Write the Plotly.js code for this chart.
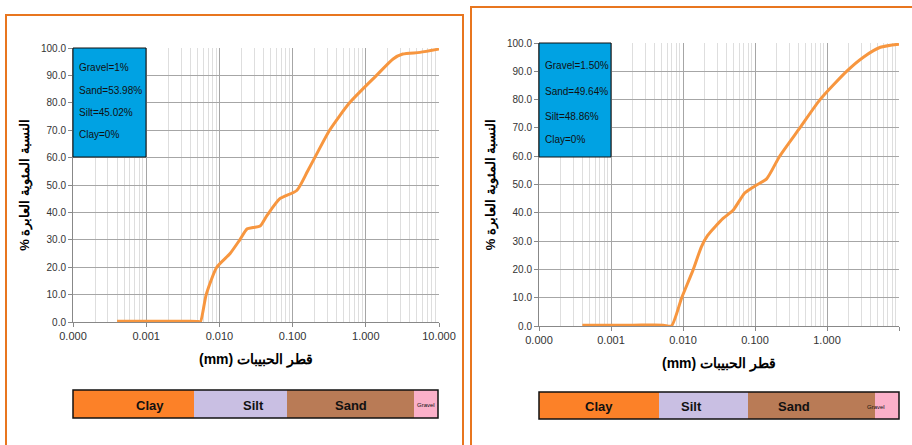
<!DOCTYPE html>
<html>
<head>
<meta charset="utf-8">
<script src="https://cdn.plot.ly/plotly-3.0.1.min.js"></script>
<style>body{margin:0;background:#fff}#chart{width:912px;height:445px}</style>
</head>
<body>
<div id="chart"></div>
<script>
// left sample: grain size (mm) vs % passing
const sizeA = [0.0004, 0.002, 0.004, 0.0051, 0.0055, 0.0066, 0.0092, 0.014, 0.019, 0.024, 0.029, 0.036, 0.045, 0.067, 0.114, 0.16, 0.22, 0.32, 0.6, 1.4, 2.36, 3.2, 5.5, 10];
const passA = [0.3, 0.3, 0.3, 0.2, 0, 10, 20, 25, 30, 34, 34.5, 35, 39, 45, 48, 55, 62, 70, 80, 90, 96, 97.8, 98.4, 99.6];
// right sample
const sizeB = [0.0004, 0.002, 0.0053, 0.0069, 0.0096, 0.0139, 0.018, 0.022, 0.036, 0.05, 0.072, 0.1, 0.145, 0.22, 0.42, 0.8, 1.87, 3.2, 5.5, 10];
const passB = [0.3, 0.3, 0.3, 0, 10, 20, 28, 32, 38, 41, 47, 49.5, 52, 60, 70, 80, 90, 95, 98.5, 99.6];

const tickVals = [0.0001, 0.001, 0.01, 0.1, 1, 10];
const tickText = ['0.000', '0.001', '0.010', '0.100', '1.000', '10.000'];
const boxA = ['Gravel=1%', 'Sand=53.98%', 'Silt=45.02%', 'Clay=0%'];
const boxB = ['Gravel=1.50%', 'Sand=49.64%', 'Silt=48.86%', 'Clay=0%'];
const bandNames = ['Clay', 'Silt', 'Sand', 'Gravel'];
const bandColors = ['#fc8128', '#c9bfe3', '#b97b56', '#fbb0c9'];
const bandEdgesA = [73, 194, 287, 414, 438];
const bandEdgesB = [539, 659, 748, 875, 899];

const W = 912, H = 445;
const px = x => x / W, py = y => 1 - y / H;

const minorVals = [];
for (let e = -4; e < 1; e++) for (let k = 2; k <= 9; k++) minorVals.push(k * Math.pow(10, e));

const curveColor = '#f7963f';
const font = "'Liberation Sans', Arial, sans-serif";
const narrow = "'Liberation Sans Narrow', " + font;

function xax(dom, anchor) {
    return {
        type: 'log', domain: dom, anchor, range: [-4, 1],
        tickvals: tickVals, ticktext: tickText, ticks: 'outside', ticklen: 4, tickcolor: '#888',
        showline: true, linecolor: '#888', gridcolor: '#a6a6a6', zeroline: false,
        minor: { tickvals: minorVals, showgrid: true, gridcolor: '#dedede', ticks: '' },
        tickfont: { size: 11, color: '#333' },
        title: { text: '<b>(mm) قطر الحبيبات</b>', font: { size: 14, color: '#000' }, standoff: 12 }
    };
}
function yax(dom, anchor) {
    return {
        domain: dom, anchor, range: [0, 100], dtick: 10, tickformat: '.1f',
        ticks: 'outside', ticklen: 4, tickcolor: '#888', showline: true, linecolor: '#888',
        gridcolor: '#a6a6a6', zeroline: false, tickfont: { size: 10, color: '#333' },
        title: { text: '<b>% النسبة المئوية العابرة</b>', font: { size: 13, color: '#000' }, standoff: 8 }
    };
}

const shapes = [], annotations = [];
// orange frames
shapes.push({ type: 'rect', xref: 'paper', yref: 'paper', x0: px(6), x1: px(463), y0: py(460), y1: py(15), line: { color: '#e8761f', width: 2 } });
shapes.push({ type: 'rect', xref: 'paper', yref: 'paper', x0: px(471), x1: px(920), y0: py(460), y1: py(7), line: { color: '#e8761f', width: 2 } });

function infoBox(x0, x1, y0, y1, ys, lines) {
    shapes.push({ type: 'rect', xref: 'paper', yref: 'paper', x0: px(x0), x1: px(x1), y0: py(y1), y1: py(y0), fillcolor: '#00a2e3', line: { color: '#111', width: 1 } });
    lines.forEach((t, i) => annotations.push({
        xref: 'paper', yref: 'paper', x: px(x0 + 4), y: py(ys[i]), text: t, showarrow: false,
        xanchor: 'left', yanchor: 'middle', font: { size: 10, color: '#111', family: narrow }
    }));
}
infoBox(73, 146, 48, 157, [68, 90, 112, 134], boxA);
infoBox(539, 611, 43, 157, [65, 91, 117, 139], boxB);

function band(edges, y0, y1) {
    bandNames.forEach((n, i) => {
        shapes.push({ type: 'rect', xref: 'paper', yref: 'paper', x0: px(edges[i]), x1: px(edges[i + 1]), y0: py(y1), y1: py(y0), fillcolor: bandColors[i], line: { width: 0 } });
        annotations.push({ xref: 'paper', yref: 'paper', x: px((edges[i] + edges[i + 1]) / 2), y: py((y0 + y1) / 2 + 1),
            yanchor: 'middle', text: i === 3 ? n : '<b>' + n + '</b>', showarrow: false,
            font: { size: i === 3 ? 6 : 13, color: '#111', family: narrow } });
    });
    shapes.push({ type: 'rect', xref: 'paper', yref: 'paper', x0: px(edges[0]), x1: px(edges[4]), y0: py(y1), y1: py(y0), line: { color: '#111', width: 1.5 } });
}
band(bandEdgesA, 390, 418);
band(bandEdgesB, 392, 419);

const traces = [
    { x: sizeA, y: passA, mode: 'lines', line: { color: curveColor, width: 3, shape: 'spline', smoothing: 0.6 }, xaxis: 'x', yaxis: 'y', hoverinfo: 'x+y' },
    { x: sizeB, y: passB, mode: 'lines', line: { color: curveColor, width: 3, shape: 'spline', smoothing: 0.6 }, xaxis: 'x2', yaxis: 'y2', hoverinfo: 'x+y' }
];

Plotly.newPlot('chart', traces, {
    width: W, height: H, showlegend: false,
    margin: { l: 0, r: 0, t: 0, b: 0 },
    paper_bgcolor: '#fff', plot_bgcolor: '#fff',
    font: { family: font },
    xaxis: xax([px(73), px(439)], 'y'),
    yaxis: yax([py(322), py(48)], 'x'),
    xaxis2: xax([px(539), px(899)], 'y2'),
    yaxis2: yax([py(326), py(43)], 'x2'),
    shapes, annotations
}, { displayModeBar: false });
</script>
</body>
</html>
